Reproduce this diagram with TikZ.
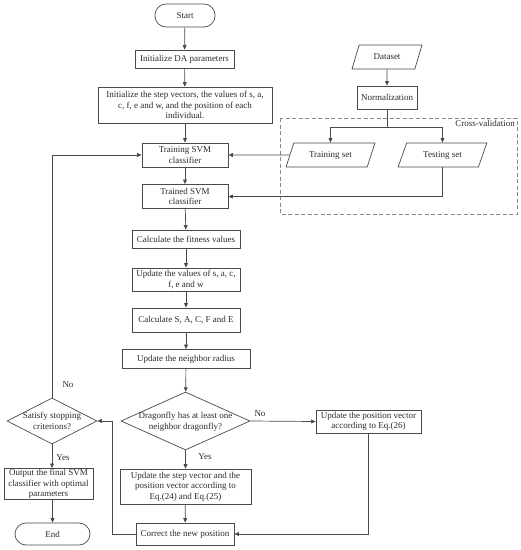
\documentclass[tikz,border=0pt]{standalone}
\usepackage{fontspec}
\setmainfont{Liberation Serif}
\usetikzlibrary{shapes.geometric,arrows.meta}
\definecolor{ln}{HTML}{4A4A4A}
\definecolor{tx}{HTML}{2A2A2A}
\definecolor{dash}{HTML}{8A8A8A}
\newcommand{\flattext}[1]{\makebox[0pt]{\smash{\raisebox{-3pt}{\begin{tabular}{@{}c@{}}#1\end{tabular}}}}}
\tikzset{
  base/.style={draw=ln, line width=0.7pt, text=tx, inner sep=1pt, align=center,
    font=\fontsize{9}{10.5}\selectfont},
  box/.style={base, rectangle},
  term/.style={base, rectangle, rounded corners=11pt},
  dia/.style={base, diamond, inner sep=0pt},
  para/.style={base, trapezium, trapezium left angle=60, trapezium right angle=120,
    trapezium stretches=true, inner sep=0pt},
  arr/.style={draw=ln, line width=0.7pt, -{Triangle[length=4.5pt,width=3.8pt]}},
  ln/.style={draw=ln, line width=0.7pt},
  lbl/.style={text=tx, font=\fontsize{9}{10.5}\selectfont, inner sep=0pt}
}
\begin{document}
\begin{tikzpicture}[x=1pt,y=-1pt]
\useasboundingbox (0,0) rectangle (521,550);
% left column
\node[term, minimum width=60, minimum height=23] (start) at (185,15.5) {Start};
\node[box, minimum width=99, minimum height=18] (initda) at (184.5,59) {Initialize DA parameters};
\node[box, minimum width=174, minimum height=36] (initsv) at (185,105) {Initialize the step vectors, the values of s, a,\\c, f, e and w, and the position of each\\individual.};
\node[box, minimum width=86, minimum height=24] (train) at (185,155) {Training SVM\\classifier};
\node[box, minimum width=86, minimum height=24] (trained) at (185,196.5) {Trained SVM\\classifier};
\node[box, minimum width=108, minimum height=18] (fit) at (186,239) {Calculate the fitness values};
\node[box, minimum width=108, minimum height=23] (upd) at (186,279.5) {Update the values of s, a, c,\\f, e and w};
\node[box, minimum width=108, minimum height=24] (calc) at (186,320) {Calculate S, A, C, F and E};
\node[box, minimum width=128, minimum height=19] (radius) at (186,359) {Update the neighbor radius};
\node[dia, minimum width=129, minimum height=58] (dragon) at (185.5,421) {\flattext{Dragonfly has at least one\\neighbor dragonfly?}};
\node[box, minimum width=105, minimum height=23] (updpos) at (368.5,421.5) {Update the position vector\\according to Eq.(26)};
\node[box, minimum width=131, minimum height=35] (updstep) at (185.5,486.5) {Update the step vector and the\\position vector according to\\Eq.(24) and Eq.(25)};
\node[box, minimum width=98, minimum height=22] (correct) at (185,534) {Correct the new position};
\node[dia, minimum width=90, minimum height=46] (satisfy) at (52,421) {\flattext{Satisfy stopping\\criterions?}};
\node[box, minimum width=89, minimum height=28] (output) at (48.5,484) {Output the final SVM\\classifier with optimal\\parameters};
\node[term, minimum width=75, minimum height=22] (end) at (52.5,534) {End};
% right column
\node[para, minimum width=70, minimum height=24] (dataset) at (387,57) {Dataset};
\node[box, minimum width=60, minimum height=23] (norm) at (387,97.5) {Normalization};
\node[para, minimum width=89, minimum height=24] (trainset) at (330.5,155) {Training set};
\node[para, minimum width=89, minimum height=24] (testset) at (442.5,155) {Testing set};
\draw[draw=dash, line width=0.9pt, dash pattern=on 4pt off 2.5pt] (280,118) rectangle (517,214);
\node[lbl, anchor=north east] (cv) at (515,120.5) {Cross-validation};
% connectors
\draw[arr] (start) -- (initda);
\draw[arr] (initda) -- (initsv);
\draw[arr] (initsv) -- (train);
\draw[arr] (train) -- (trained);
\draw[arr] (trained) -- (fit);
\draw[arr] (fit) -- (upd);
\draw[arr] (upd) -- (calc);
\draw[arr] (calc) -- (radius);
\draw[arr] (radius) -- (dragon);
\draw[arr] (dragon.east) -- (updpos.west);
\node[lbl] (no1) at (260,414) {No};
\draw[arr] (dragon.south) -- (updstep.north);
\node[lbl] (yes1) at (205,457) {Yes};
\draw[arr] (updstep) -- (correct);
\draw[arr] (updpos.south) |- (correct.east);
\coordinate (back) at (112,534);
\draw[arr] (correct.west) -- (back) |- (satisfy.east);
\draw[arr] (satisfy.north) |- (train.west);
\node[lbl] (no2) at (68,385) {No};
\draw[arr] (satisfy.south) -- (satisfy.south |- output.north);
\node[lbl] (yes2) at (63,458) {Yes};
\draw[arr] (output.south -| end.north) -- (end.north);
\draw[arr] (dataset) -- (norm);
\coordinate (split) at (387,127);
\draw[ln] (norm.south) -- (split);
\draw[arr] (split) -| (trainset.north);
\draw[arr] (split) -| (testset.north);
\draw[arr] (trainset.west) -- (train.east);
\draw[arr] (testset.south) |- (trained.east);
\end{tikzpicture}
\end{document}
